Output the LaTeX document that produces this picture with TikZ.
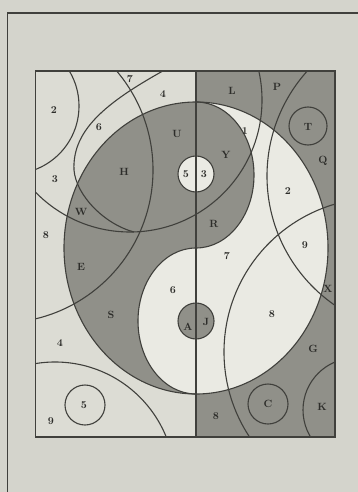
\documentclass[tikz,border=0pt]{standalone}
\usepackage{xcolor}
\usepackage{tikz}
\definecolor{papelgris}{RGB}{212,212,204}
\definecolor{zonaclara}{RGB}{220,220,212}
\definecolor{zonablanca}{RGB}{234,234,227}
\definecolor{zonaoscura}{RGB}{144,144,137}
\definecolor{trazo}{RGB}{64,64,60}
\definecolor{letra}{RGB}{45,45,42}

\begin{document}
\begin{tikzpicture}[x=1pt, y=-1pt,
    linea/.style={draw=trazo, line width=1.1pt},
    etiq/.style={font=\bfseries\fontsize{10.5}{11}\selectfont, text=letra, inner sep=0pt}]
    % hoja y marco exterior
    \fill[papelgris] (0,0) rectangle (358,492);
    \useasboundingbox (0,0) rectangle (358,492);
    \draw[trazo, line width=1.6pt] (358,13)--(7.5,13)--(7.5,492);
    % rectangulo interior, mitad derecha oscura
    \fill[zonaclara] (35.5,71) rectangle (335,437);
    \fill[zonaoscura] (196,71) rectangle (335,437);
    % yin-yang: elipse blanca y pez oscuro
    \fill[zonablanca] (196,248) ellipse [x radius=132, y radius=146];
    \fill[zonaoscura] (196,102) arc[start angle=270, end angle=90, x radius=132, y radius=146]
        arc[start angle=90, end angle=270, x radius=58, y radius=73]
        arc[start angle=90, end angle=-90, x radius=58, y radius=73] -- cycle;
    \begin{scope}
    \clip (35.5,71) rectangle (335,437);
    \draw[linea] (196,248) ellipse [x radius=132, y radius=146];
    \draw[linea] (196,394) arc[start angle=90, end angle=270, x radius=58, y radius=73]
        arc[start angle=90, end angle=-90, x radius=58, y radius=73];
    % puntos del yin-yang
    \filldraw[fill=zonablanca, linea] (196,174) circle[radius=18];
    \filldraw[fill=zonaoscura, linea] (196,321) circle[radius=18];
    \draw[linea] (196,71)--(196,437);
    % circulos grandes
    \draw[linea] (11,106) circle[radius=68];
    \draw[linea] (0,170) circle[radius=153];
    \draw[linea] (130,100) circle[radius=132];
    \draw[linea] (424,176) circle[radius=157];
    \draw[linea] (378,352) circle[radius=154];
    \draw[linea] (355,410) circle[radius=52];
    \draw[linea] (55,482) circle[radius=120];
    % curva que baja hasta W
    \draw[linea] (170,67) .. controls (110,100) and (72,128) .. (74,170)
        .. controls (76,195) and (104,224) .. (134,232);
    % circulos chicos
    \draw[linea] (308,126) circle[radius=19];
    \draw[linea] (268,404) circle[radius=20];
    \draw[linea] (85,405) circle[radius=20];
    \end{scope}
    \draw[trazo, line width=1.4pt] (35.5,71) rectangle (335,437);
    % etiquetas
    \node[etiq] (dos1) at (54,110) {2};
    \node[etiq] (siete1) at (130,79) {7};
    \node[etiq] (cuatro1) at (163,94) {4};
    \node[etiq] (ele) at (232,91) {L};
    \node[etiq] (pe) at (277,87) {P};
    \node[etiq] (te) at (308,127) {T};
    \node[etiq] (seis1) at (99,127) {6};
    \node[etiq] (u) at (177,134) {U};
    \node[etiq] (uno) at (245,131) {1};
    \node[etiq] (cu) at (323,161) {Q};
    \node[etiq] (hache) at (124,172) {H};
    \node[etiq] (cinco1) at (186,174) {5};
    \node[etiq] (tres1) at (204,174) {3};
    \node[etiq] (ye) at (226,155) {Y};
    \node[etiq] (tres2) at (55,179) {3};
    \node[etiq] (dos2) at (288,191) {2};
    \node[etiq] (uve) at (81,212) {W};
    \node[etiq] (erre) at (214,224) {R};
    \node[etiq] (ocho1) at (46,235) {8};
    \node[etiq] (nueve1) at (305,245) {9};
    \node[etiq] (siete2) at (227,256) {7};
    \node[etiq] (e) at (81,267) {E};
    \node[etiq] (seis2) at (173,290) {6};
    \node[etiq] (equis) at (328,289) {X};
    \node[etiq] (ese) at (111,315) {S};
    \node[etiq] (ocho2) at (272,314) {8};
    \node[etiq] (a) at (188,327) {A};
    \node[etiq] (jota) at (206,322) {J};
    \node[etiq] (cuatro2) at (60,343) {4};
    \node[etiq] (ge) at (313,349) {G};
    \node[etiq] (cinco2) at (84,405) {5};
    \node[etiq] (ce) at (268,404) {C};
    \node[etiq] (ka) at (322,407) {K};
    \node[etiq] (nueve2) at (51,421) {9};
    \node[etiq] (ocho3) at (216,416) {8};
\end{tikzpicture}
\end{document}
